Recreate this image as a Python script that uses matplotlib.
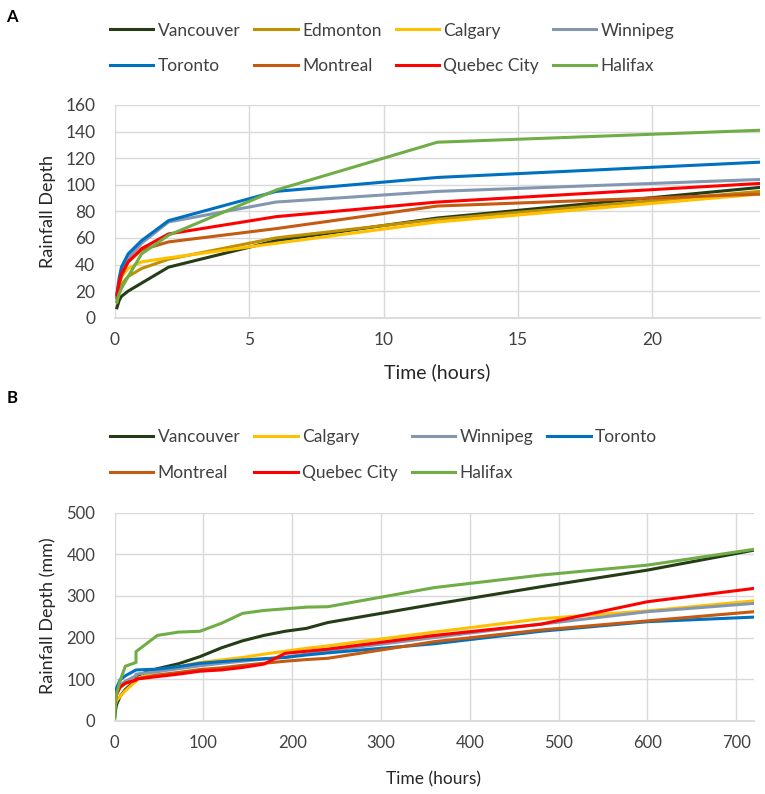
import matplotlib
import matplotlib.pyplot as plt

matplotlib.use('Agg')

plt.rcParams['font.family'] = ['Lato', 'DejaVu Sans']

# panel A: durations up to one day (hours)
hours_a = [0.083, 0.167, 0.25, 0.5, 1, 2, 6, 12, 24]
vancouver_a = [7.5, 13, 16, 20, 26, 38, 58, 75, 98]
edmonton_a = [12, 20, 25, 31, 37, 44, 60, 74, 95]
calgary_a = [15, 25, 31, 37, 42, 45, 56, 72, 93]
winnipeg_a = [15, 26, 33, 45, 56, 72, 87, 95, 104]
toronto_a = [18, 30, 38, 48, 58, 73, 95, 105.5, 117]
montreal_a = [15, 25, 31, 42, 51, 57, 67, 84, 93]
quebec_a = [17, 27, 33, 42, 52, 63, 76, 87, 101]
halifax_a = [12, 18, 22, 31, 48, 62, 96, 132, 141]

# panel B: durations up to 30 days (hours)
hours_b = [0.083, 1, 2, 6, 12, 24, 24, 48, 72, 96, 120, 144, 168, 192, 216, 240, 360, 480, 600, 720]
vancouver_b = [8, 26, 38, 58, 75, 98, 108, 125, 137, 154, 175, 192, 205, 215, 222, 236, 280, 322, 362, 410]
calgary_b = [30, 40, 48, 58, 72, 95, 100, 118, 130, 140, 146, 152, 160, 167, 174, 180, 213, 245, 264, 288]
winnipeg_b = [55, 60, 68, 85, 95, 108, 112, 118, 125, 132, 138, 143, 148, 153, 160, 168, 200, 232, 262, 282]
toronto_b = [68, 72, 78, 98, 108, 122, 122, 124, 130, 138, 142, 146, 149, 152, 158, 163, 185, 215, 238, 249]
montreal_b = [55, 60, 68, 82, 90, 97, 100, 110, 116, 123, 127, 133, 138, 143, 147, 150, 190, 218, 240, 262]
quebec_b = [45, 52, 62, 80, 90, 98, 100, 106, 112, 119, 122, 128, 136, 162, 167, 172, 205, 232, 286, 318]
halifax_b = [6, 48, 62, 96, 131, 140, 166, 205, 213, 215, 234, 258, 265, 269, 273, 274, 320, 350, 374, 412]

colors = {
    'Vancouver': '#243D16',
    'Edmonton': '#BF9000',
    'Calgary': '#FFC000',
    'Winnipeg': '#8497B0',
    'Toronto': '#0070C0',
    'Montreal': '#C55A11',
    'Quebec City': '#FF0000',
    'Halifax': '#70AD47',
}

series_a = [('Vancouver', vancouver_a), ('Edmonton', edmonton_a), ('Calgary', calgary_a),
            ('Winnipeg', winnipeg_a), ('Toronto', toronto_a), ('Montreal', montreal_a),
            ('Quebec City', quebec_a), ('Halifax', halifax_a)]
series_b = [('Vancouver', vancouver_b), ('Calgary', calgary_b), ('Winnipeg', winnipeg_b),
            ('Toronto', toronto_b), ('Montreal', montreal_b), ('Quebec City', quebec_b),
            ('Halifax', halifax_b)]

W, H = 765, 794
fig = plt.figure(figsize=(W / 100, H / 100), dpi=100)


def style_axes(ax, tick_size):
    for s in ['top', 'right', 'left']:
        ax.spines[s].set_visible(False)
    ax.spines['bottom'].set_color('#D9D9D9')
    ax.spines['bottom'].set_linewidth(1.3)
    ax.grid(True, color='#D9D9D9', linewidth=1.0)
    ax.set_axisbelow(True)
    ax.tick_params(length=0, labelsize=tick_size, labelcolor='#404040')
    ax.tick_params(axis='y', pad=14)
    ax.tick_params(axis='x', pad=10)


# ---- panel A
ax1 = fig.add_axes([114.7 / W, 1 - 317.7 / H, (760 - 114.7) / W, (317.7 - 105) / H])
lines_a = {}
for name, vals in series_a:
    lines_a[name], = ax1.plot(hours_a, vals, color=colors[name], lw=2.2,
                              solid_joinstyle='round', label=name)
ax1.set_xlim(0, 24)
ax1.set_ylim(0, 160)
ax1.set_xticks([0, 5, 10, 15, 20])
ax1.set_yticks(range(0, 161, 20))
style_axes(ax1, 12.5)

# legend laid out row-wise (matplotlib fills columns first)
order_a = ['Vancouver', 'Toronto', 'Edmonton', 'Montreal', 'Calgary', 'Quebec City', 'Winnipeg', 'Halifax']
fig.legend([lines_a[n] for n in order_a], order_a, ncol=4, frameon=False,
           loc='center left', bbox_to_anchor=(110 / W, 1 - 48.5 / H),
           borderpad=0, borderaxespad=0, handlelength=2.5, handletextpad=0.25,
           columnspacing=0.8, labelspacing=1.15, fontsize=12.5, labelcolor='#404040')

fig.text(12 / W, 1 - 17 / H, 'A', fontsize=12, fontweight='bold', ha='center', va='center')
fig.text(437 / W, 1 - 372 / H, 'Time (hours)', fontsize=14, color='#262626', ha='center', va='center')
fig.text(48 / W, 1 - 211 / H, 'Rainfall Depth', fontsize=13, color='#262626',
         rotation=90, ha='center', va='center')

# ---- panel B
ax2 = fig.add_axes([114.7 / W, 1 - 720.7 / H, (754 - 114.7) / W, (720.7 - 512.7) / H])
lines_b = {}
for name, vals in series_b:
    lines_b[name], = ax2.plot(hours_b, vals, color=colors[name], lw=2.2,
                              solid_joinstyle='round', label=name)
ax2.set_xlim(0, 720)
ax2.set_ylim(0, 500)
ax2.set_xticks(range(0, 701, 100))
ax2.set_yticks(range(0, 501, 100))
style_axes(ax2, 12)

order_b = ['Vancouver', 'Montreal', 'Calgary', 'Quebec City', 'Winnipeg', 'Halifax', 'Toronto']
fig.legend([lines_b[n] for n in order_b], order_b, ncol=4, frameon=False,
           loc='center left', bbox_to_anchor=(110 / W, 1 - 455 / H),
           borderpad=0, borderaxespad=0, handlelength=2.5, handletextpad=0.25,
           columnspacing=0.8, labelspacing=1.15, fontsize=12.5, labelcolor='#404040')

fig.text(12 / W, 1 - 398 / H, 'B', fontsize=12, fontweight='bold', ha='center', va='center')
fig.text(434 / W, 1 - 779 / H, 'Time (hours)', fontsize=12.5, color='#262626', ha='center', va='center')
fig.text(48 / W, 1 - 616 / H, 'Rainfall Depth (mm)', fontsize=13, color='#262626',
         rotation=90, ha='center', va='center')

fig.savefig('out.png', dpi=100)
